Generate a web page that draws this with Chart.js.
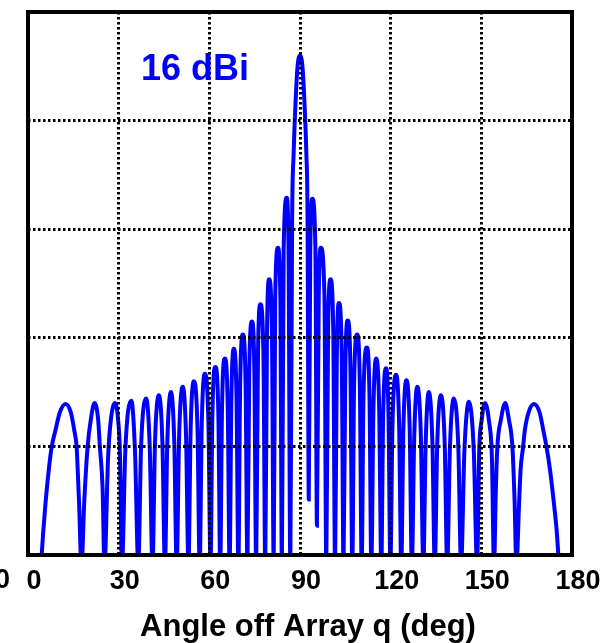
<!DOCTYPE html>
<html>
<head>
<meta charset="utf-8">
<script src="https://cdn.jsdelivr.net/npm/chart.js@4.4.1/dist/chart.umd.min.js"></script>
<style>
  body { margin: 0; background: #fff; }
  canvas { display: block; }
</style>
</head>
<body>
<canvas id="pattern" width="612" height="643"></canvas>
<script>
// nulls sit just under the -30 floor so the line drops out of the box there
var angleDeg = [
    4.3, 5.0, 5.8, 6.9, 7.8, 9.1, 10.5, 12.4, 14.2, 15.3, 16.1, 16.5, 16.9, 17.7,
    18.6, 19.7, 20.8, 22.0, 23.2, 23.8, 24.7, 25.3,
    26.5, 27.4, 28.8, 29.9, 30.4, 31.1,
    32.2, 34.2, 35.4, 36.5,
    37.4, 39.1, 40.3, 41.2,
    42.0, 43.3, 44.5, 45.3,
    46.1, 47.3, 48.4, 49.2,
    50.0, 51.2, 52.3, 53.1,
    53.8, 54.9, 56.1, 56.8,
    57.5, 58.5, 59.7, 60.4,
    61.0, 62.0, 63.0, 63.6,
    64.2, 65.1, 66.1, 66.7,
    67.3, 68.1, 69.0, 69.6,
    70.2, 71.1, 72.0, 72.6,
    73.2, 74.1, 74.9, 75.5,
    76.1, 76.9, 77.9, 78.5,
    79.1, 79.8, 80.7, 81.3,
    81.8, 82.7, 83.5, 84.0,
    84.6, 85.6, 86.2, 86.8,
    87.4, 87.9, 88.5, 89.2, 90.0, 90.8, 91.5, 92.1, 92.5, 92.9,
    93.4, 94.1, 95.1, 95.6,
    96.2, 96.9, 98.1, 98.7,
    99.3, 100.1, 101.0, 101.6,
    102.2, 102.9, 103.8, 104.4,
    105.0, 105.8, 106.7, 107.3,
    107.9, 108.9, 109.8, 110.4,
    111.0, 112.1, 113.0, 113.6,
    114.3, 115.2, 116.2, 116.9,
    117.5, 118.5, 119.3, 119.9,
    120.6, 121.8, 122.8, 123.5,
    124.2, 125.2, 126.3, 127.0,
    127.8, 128.8, 130.0, 130.8,
    131.6, 132.6, 133.8, 134.6,
    135.4, 136.6, 137.9, 138.7,
    139.6, 140.9, 142.4, 143.3,
    144.4, 145.9, 147.5, 148.6,
    149.3, 150.1, 151.2, 152.6, 153.5, 154.2,
    154.8, 155.3, 156.5, 157.9, 159.1, 160.3, 161.0, 161.6,
    162.5, 163.0, 163.8, 164.4, 165.6, 167.4, 169.3, 170.5, 171.6, 172.7, 174.0, 175.0, 175.7
];
var gainDbi = [
    -31, -28, -25.2, -22.1, -20.1, -18.5, -16.9, -16.1, -16.9, -18.5, -20.1, -22.5, -25.2, -31,
    -25.2, -20.1, -17.5, -16.0, -17.5, -20.1, -24.0, -31,
    -21.0, -17.6, -16.0, -17.8, -20.4, -31,
    -20.4, -15.8, -20.4, -31,
    -20.2, -15.6, -20.2, -31,
    -19.9, -15.3, -19.9, -31,
    -19.6, -15.0, -19.6, -31,
    -19.1, -14.5, -19.1, -31,
    -18.6, -14.0, -18.6, -31,
    -17.9, -13.3, -17.9, -31,
    -17.3, -12.7, -17.3, -31,
    -16.5, -11.9, -16.5, -31,
    -15.6, -11.0, -15.6, -31,
    -14.3, -9.7, -14.3, -31,
    -13.1, -8.5, -13.1, -31,
    -11.5, -6.9, -11.5, -31,
    -9.2, -4.6, -9.2, -31,
    -6.3, -1.7, -6.3, -31,
    -1.8, 2.9, -1.8, -31,
    1.0, 7.0, 11.5, 15.0, 16.0, 15.0, 11.5, 7.0, 1.0, -24.9,
    -1.8, 2.8, -1.8, -27.3,
    -6.3, -1.7, -6.3, -31,
    -9.2, -4.6, -9.2, -31,
    -11.4, -6.8, -11.4, -31,
    -13.0, -8.4, -13.0, -31,
    -14.3, -9.7, -14.3, -31,
    -15.5, -10.9, -15.5, -31,
    -16.5, -11.9, -16.5, -31,
    -17.4, -12.8, -17.4, -31,
    -18.0, -13.4, -18.0, -31,
    -18.5, -13.9, -18.5, -31,
    -19.1, -14.5, -19.1, -31,
    -19.6, -15.0, -19.6, -31,
    -19.9, -15.3, -19.9, -31,
    -20.2, -15.6, -20.2, -31,
    -20.4, -15.9, -20.4, -31,
    -20.4, -17.6, -16.0, -17.8, -21.0, -31,
    -24.0, -20.1, -17.5, -16.0, -17.5, -20.1, -25.0, -31,
    -25.2, -22.1, -20.1, -18.5, -16.9, -16.1, -16.9, -18.5, -20.1, -22.1, -25.2, -28, -31
];

var xTicks = [0, 30, 60, 90, 120, 150, 180];
var yTicks = [-30, -20, -10, 0, 10, 20];

var xTitle = 'Angle off Array q (deg)';
var gainNote = '16 dBi';

const boldFont = '"Liberation Sans", Arial, sans-serif';

// box round the plot + the loose texts
const frameAndText = {
    id: 'frameAndText',
    afterDraw(chart) {
        const { ctx, chartArea } = chart;
        ctx.save();
        ctx.lineWidth = 4;
        ctx.strokeStyle = '#000';
        ctx.strokeRect(chartArea.left, chartArea.top,
            chartArea.right - chartArea.left, chartArea.bottom - chartArea.top);

        ctx.fillStyle = '#0000ff';
        ctx.font = 'bold 36px ' + boldFont;
        ctx.textAlign = 'left';
        ctx.textBaseline = 'alphabetic';
        ctx.fillText(gainNote, 141, 80);

        ctx.fillStyle = '#000';
        ctx.font = 'bold 31px ' + boldFont;
        ctx.textAlign = 'center';
        ctx.fillText(xTitle, 308, 636);

        // last digit of a y label cut off by the crop
        ctx.font = 'bold 27px ' + boldFont;
        ctx.textAlign = 'right';
        ctx.textBaseline = 'middle';
        ctx.fillText('0', 10, 581);
        ctx.restore();
    }
};

const ctx = document.getElementById('pattern').getContext('2d');
const myChart = new Chart(ctx, {
    type: 'line',
    data: {
        datasets: [{
            data: angleDeg.map((a, i) => ({ x: a, y: gainDbi[i] })),
            borderColor: '#0000ff',
            borderWidth: 4,
            pointRadius: 0,
            cubicInterpolationMode: 'monotone',
            clip: 0
        }]
    },
    options: {
        responsive: false,
        animation: false,
        devicePixelRatio: 1,
        layout: {
            padding: { left: 28, top: 12, right: 40, bottom: 0 }
        },
        plugins: {
            legend: { display: false },
            tooltip: { enabled: false }
        },
        scales: {
            x: {
                type: 'linear',
                min: 0,
                max: 180,
                afterBuildTicks: s => { s.ticks = xTicks.map(v => ({ value: v })); },
                afterFit: s => { s.height = 88; },
                ticks: {
                    autoSkip: false,
                    maxRotation: 0,
                    padding: 10,
                    labelOffset: 6,
                    color: '#000',
                    font: { family: boldFont, size: 27, weight: 'bold' }
                },
                grid: {
                    color: '#000',
                    lineWidth: 3,
                    drawTicks: false,
                    z: 1
                },
                border: { display: false, dash: [2.5, 2.5] }
            },
            y: {
                min: -30,
                max: 20,
                afterBuildTicks: s => { s.ticks = yTicks.map(v => ({ value: v })); },
                afterFit: s => { s.width = 0; },
                ticks: { display: false },
                grid: {
                    color: '#000',
                    lineWidth: 3,
                    drawTicks: false,
                    z: 1
                },
                border: { display: false, dash: [2.5, 2.5] }
            }
        }
    },
    plugins: [frameAndText]
});
</script>
</body>
</html>
